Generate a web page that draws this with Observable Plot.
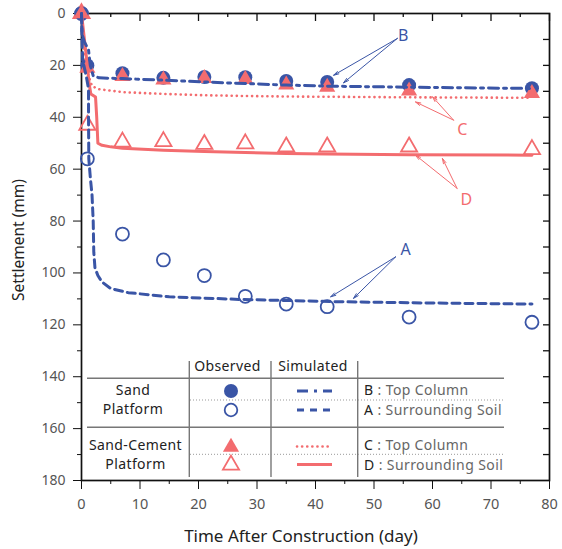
<!DOCTYPE html>
<html><head><meta charset="utf-8">
<script src="https://cdn.jsdelivr.net/npm/d3@7"></script>
<script src="https://cdn.jsdelivr.net/npm/@observablehq/plot@0.6"></script>
<style>
body{margin:0;background:#fff}
#chart{position:relative;width:562px;height:549px}
</style>
</head><body><div id="chart"></div>
<script>
const blue = "#3a55a6", red = "#f36c6f";

// Observed data (day, settlement mm)
const obsDays = [0, 1, 7, 14, 21, 28, 35, 42, 56, 77];
const obsB = [0, 20, 23, 24.8, 24.5, 24.6, 26, 26.4, 27.6, 28.8];   // Sand, top column (filled circle)
const obsA = [0, 56, 85, 95, 101, 109, 112, 113, 117, 119];         // Sand, surrounding soil (open circle)
const obsC = [0, 21, 24.2, 25.6, 25, 25.4, 27.5, 28.4, 29.8, 30.8]; // Sand-cement, top column (filled triangle)
const obsD = [0, 43, 49.5, 49.3, 50.4, 50.2, 51.4, 51.4, 51.4, 52.4]; // Sand-cement, surrounding soil (open triangle)

// Simulated curves
const simBDay = [0, 0.1, 0.5, 1.2, 1.5, 2, 3, 7, 14, 21, 28, 35, 42, 56, 77];
const simBmm  = [0, 8, 11, 14, 20, 24, 24.8, 25.1, 25.7, 26.4, 27, 27.6, 28, 28.4, 28.9];
const simADay = [0, 0.1, 0.2, 0.8, 1.2, 1.2, 1.25, 1.5, 1.8, 2.0, 2.1, 2.3, 2.8, 3.5, 5, 8, 15, 27, 44, 60, 77];
const simAmm  = [0, 10, 18, 24, 29, 40, 56, 63, 70, 80, 92, 98, 101, 103.5, 106, 107.6, 109.2, 110.2, 111.1, 111.6, 112];
const simCDay = [0, 0.3, 0.7, 1.2, 1.8, 3, 7, 14, 21, 28, 35, 42, 56, 77];
const simCmm  = [0, 10, 18, 24, 28, 29.2, 30.3, 31, 31.5, 31.8, 32, 32.1, 32.3, 32.5];
const simDDay = [0, 0.5, 0.9, 1.3, 1.6, 2.4, 2.6, 2.8, 3.5, 5, 7, 14, 21, 28, 35, 42, 56, 77];
const simDmm  = [0, 10, 18, 27, 31, 32.2, 40, 50, 50.8, 51.4, 51.9, 52.7, 53.2, 53.6, 54, 54.2, 54.4, 54.6];

// Annotations
const annLetters = ["B", "C", "D", "A"];
const annColors  = [blue, red, red, blue];
const annTextDay = [55.0, 65.1, 65.8, 55.4];
const annTextMm  = [8.6, 44.7, 71.9, 91.2];
const annFromDay = [54.0, 63.6, 64.2, 53.7];
const annFromMm  = [9.6, 41.1, 67.4, 93.8];
const annTo1Day  = [43.1, 57.1, 57.1, 42.6];
const annTo1Mm   = [23.8, 34.1, 54.6, 109.2];
const annTo2Day  = [44.8, 60.0, 61.7, 46.5];
const annTo2Mm   = [26.7, 32.1, 55.9, 109.8];

// Axis ticks
const xMajor = [0, 10, 20, 30, 40, 50, 60, 70, 80];
const xMinor = [5, 15, 25, 35, 45, 55, 65, 75];
const yMajor = [0, 20, 40, 60, 80, 100, 120, 140, 160, 180];
const yMinor = [10, 30, 50, 70, 90, 110, 130, 150, 170];
const yRight = [10, 20, 30, 40, 50, 60, 70, 80, 90, 100, 110, 120, 130, 140, 150, 160, 170];

const toPts = (days, vals) => days.map((d, i) => ({day: d, mm: vals[i]}));
const oB = toPts(obsDays, obsB), oA = toPts(obsDays, obsA), oC = toPts(obsDays, obsC), oD = toPts(obsDays, obsD);
const sB = toPts(simBDay, simBmm), sA = toPts(simADay, simAmm), sC = toPts(simCDay, simCmm), sD = toPts(simDDay, simDmm);
const ann = annLetters.map((t, i) => ({t, c: annColors[i], x: annTextDay[i], y: annTextMm[i]}));
const arrows = annLetters.flatMap((t, i) => [
  {c: annColors[i], x1: annFromDay[i], y1: annFromMm[i], x2: annTo1Day[i], y2: annTo1Mm[i]},
  {c: annColors[i], x1: annFromDay[i], y1: annFromMm[i], x2: annTo2Day[i], y2: annTo2Mm[i]}
]);

const W = 562, H = 549, mL = 81, mR = 13, mT = 13, mB = 69;
const innerW = W - mL - mR, innerH = H - mT - mB;

const plot = Plot.plot({
  width: W, height: H,
  marginLeft: mL, marginRight: mR, marginTop: mT, marginBottom: mB,
  style: {fontFamily: "Noto Sans", fontSize: "14px", background: "white", color: "#555"},
  x: {domain: [0, 80]},
  y: {domain: [0, 180], reverse: true},
  marks: [
    Plot.axisY({ticks: yMajor, tickSize: 8, tickPadding: 8, stroke: "#111", fill: "#555", fontSize: 14, label: null}),
    Plot.axisY({ticks: yMinor, tickSize: 4, tickFormat: () => "", stroke: "#111", label: null}),
    Plot.axisX({ticks: xMajor, tickSize: 9, tickPadding: 9, stroke: "#111", fill: "#555", fontSize: 14.5, label: null}),
    Plot.axisX({ticks: xMinor, tickSize: 4, tickFormat: () => "", stroke: "#111", label: null}),
    // inward ticks on top and right
    Plot.ruleX(xMajor, {x: d => d, insetBottom: innerH - 8, stroke: "#111", strokeWidth: 1.3}),
    Plot.ruleX(xMinor, {x: d => d, insetBottom: innerH - 4, stroke: "#111", strokeWidth: 1.3}),
    Plot.ruleY(yRight, {y: d => d, insetLeft: innerW - 6, stroke: "#111", strokeWidth: 1.3}),
    Plot.frame({stroke: "#111", strokeWidth: 1.7}),
    // observed
    Plot.dot(oA, {x: "day", y: "mm", r: 6.5, stroke: blue, strokeWidth: 1.8, fill: "none"}),
    Plot.dot(oD, {x: "day", y: "mm", r: 6, symbol: "triangle", stroke: red, strokeWidth: 1.8, fill: "none"}),
    Plot.dot(oB, {x: "day", y: "mm", r: 7, fill: blue}),
    Plot.dot(oC, {x: "day", y: "mm", r: 6, symbol: "triangle", fill: red}),
    // simulated
    Plot.line(sD, {x: "day", y: "mm", stroke: red, strokeWidth: 3}),
    Plot.line(sC, {x: "day", y: "mm", stroke: red, strokeWidth: 2.6, strokeDasharray: "0.1,5", strokeLinecap: "round"}),
    Plot.line(sA, {x: "day", y: "mm", stroke: blue, strokeWidth: 3, strokeDasharray: "8,5"}),
    Plot.line(sB, {x: "day", y: "mm", stroke: blue, strokeWidth: 3, strokeDasharray: "10,5,3,5"}),
    // annotations
    Plot.arrow(arrows, {x1: "x1", y1: "y1", x2: "x2", y2: "y2", stroke: "c", strokeWidth: 1, headLength: 8, headAngle: 30}),
    Plot.text(ann, {x: "x", y: "y", text: "t", fill: "c", fontSize: 16})
  ]
});

document.getElementById("chart").appendChild(plot);

// Axis titles and legend table (overlay on the same SVG)
const svg = d3.select(plot);
svg.append("text").attr("x", 301).attr("y", 537).attr("text-anchor", "middle")
  .attr("dominant-baseline", "middle").attr("font-size", 17).attr("fill", "#222").text("Time After Construction (day)");
svg.append("text").attr("transform", `translate(20,240) rotate(-90)`).attr("text-anchor", "middle")
  .attr("dominant-baseline", "middle").attr("font-size", 15.5).attr("fill", "#222").text("Settlement (mm)");

const lg = svg.append("g").attr("font-family", "Noto Sans").attr("font-size", 14).attr("letter-spacing", 0.4);
const grey = "#777";
// grid lines
[189.3, 271, 357.7].forEach(x => lg.append("line").attr("x1", x).attr("x2", x).attr("y1", 361).attr("y2", 477).attr("stroke", grey).attr("stroke-width", 1.4));
[378.3, 427.3].forEach(y => lg.append("line").attr("x1", 87).attr("x2", 504).attr("y1", y).attr("y2", y).attr("stroke", grey).attr("stroke-width", 1.4));
[400, 454.3].forEach(y => lg.append("line").attr("x1", 190).attr("x2", 504).attr("y1", y).attr("y2", y).attr("stroke", "#999").attr("stroke-width", 1).attr("stroke-dasharray", "1,2"));

const txt = (x, y, s, anchor = "middle", fill = "#222") => lg.append("text").attr("x", x).attr("y", y)
  .attr("text-anchor", anchor).attr("dominant-baseline", "middle").attr("fill", fill).text(s);
txt(227.5, 367, "Observed");
txt(313, 367, "Simulated");
txt(133, 391, "Sand");
txt(133, 410.5, "Platform");
txt(135.5, 446, "Sand-Cement");
txt(135.5, 465.5, "Platform");

// legend symbols
const tri = d3.symbol(d3.symbolTriangle, Math.PI * 36)();
lg.append("circle").attr("cx", 231).attr("cy", 391).attr("r", 7).attr("fill", blue);
lg.append("circle").attr("cx", 231).attr("cy", 410).attr("r", 6.3).attr("fill", "none").attr("stroke", blue).attr("stroke-width", 1.8);
lg.append("path").attr("d", tri).attr("transform", "translate(231,447)").attr("fill", red);
lg.append("path").attr("d", tri).attr("transform", "translate(231,465)").attr("fill", "none").attr("stroke", red).attr("stroke-width", 1.8);

const seg = (y, color, w, dash, cap) => lg.append("line").attr("x1", 297).attr("x2", 332).attr("y1", y).attr("y2", y)
  .attr("stroke", color).attr("stroke-width", w).attr("stroke-dasharray", dash).attr("stroke-linecap", cap || "butt");
seg(391, blue, 3, "11,6,3,6");
seg(410, blue, 3, "7,6");
seg(446.5, red, 2.6, "0.1,5", "round");
seg(464.5, red, 3, null);

const lab = (y, letter, rest) => {
  const t = lg.append("text").attr("x", 364).attr("y", y).attr("text-anchor", "start").attr("dominant-baseline", "middle");
  t.append("tspan").attr("fill", "#222").text(letter);
  t.append("tspan").attr("fill", "#666").text(" : " + rest);
};
lab(390.5, "B", "Top Column");
lab(410.5, "A", "Surrounding Soil");
lab(446, "C", "Top Column");
lab(466, "D", "Surrounding Soil");
</script>
</body></html>
